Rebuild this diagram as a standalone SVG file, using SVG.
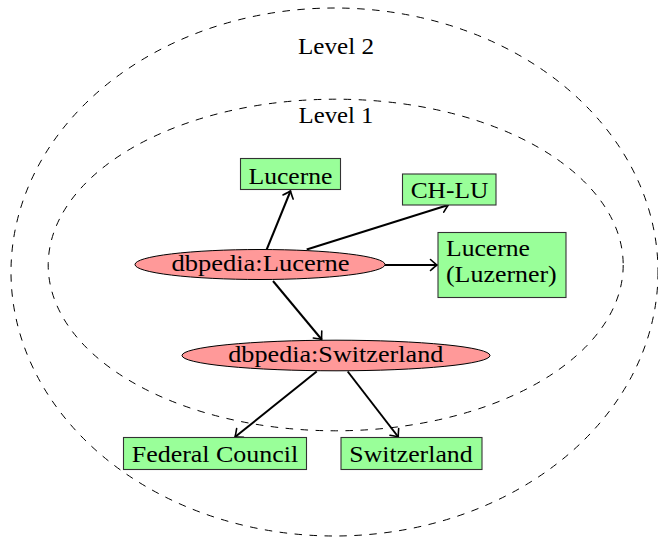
<svg xmlns="http://www.w3.org/2000/svg" width="658" height="538" viewBox="0 0 658 538">
<style>
text{font-family:"Liberation Serif","Times New Roman",serif;font-size:23px;fill:#000}
.c{text-anchor:middle}
.lvl{fill:none;stroke:#000;stroke-width:1;stroke-dasharray:7.5 7.5}
.box{fill:#99ff99;stroke:#333;stroke-width:1.1}
.ell{fill:#ff9999;stroke:#000;stroke-width:1}
.edge{fill:none;stroke:#000;stroke-width:2;marker-end:url(#to)}
</style>
<defs>
<marker id="to" markerUnits="userSpaceOnUse" orient="auto" refX="0" refY="0" markerWidth="20" markerHeight="20" viewBox="-10 -10 20 20" overflow="visible">
<path d="M-6.5,-5.5 Q-1.5,-1 0,0 Q-1.5,1 -6.5,5.5" fill="none" stroke="#000" stroke-width="1.6" stroke-linecap="round"/>
</marker>
</defs>
<g id="level2">
<ellipse class="lvl" cx="334.5" cy="272" rx="323.5" ry="264"/>
<text class="c" x="336" y="54" textLength="76" lengthAdjust="spacingAndGlyphs">Level 2</text>
</g>
<g id="level1">
<ellipse class="lvl" cx="335.7" cy="265" rx="287.5" ry="165.8"/>
<text class="c" x="336" y="122.5" textLength="75" lengthAdjust="spacingAndGlyphs">Level 1</text>
</g>
<g id="edges">
<line class="edge" x1="266.7" y1="249.5" x2="290.5" y2="191"/>
<line class="edge" x1="306.7" y1="249.5" x2="448.3" y2="205"/>
<line class="edge" x1="385" y1="265" x2="437" y2="265"/>
<line class="edge" x1="273" y1="281" x2="321.7" y2="339.5"/>
<line class="edge" x1="316.7" y1="371.5" x2="235" y2="437"/>
<line class="edge" x1="347.7" y1="371.5" x2="398.3" y2="437"/>
</g>
<g id="n-lucerne">
<rect class="box" x="240.5" y="158.5" width="100" height="31"/>
<text class="c" x="290.5" y="183.5" textLength="84" lengthAdjust="spacingAndGlyphs">Lucerne</text>
</g>
<g id="n-chlu">
<rect class="box" x="402.5" y="174" width="93.5" height="31"/>
<text class="c" x="449.5" y="197.7" textLength="77.6" lengthAdjust="spacingAndGlyphs">CH-LU</text>
</g>
<g id="n-luzerner">
<rect class="box" x="438" y="232.5" width="128" height="65"/>
<text x="446" y="256" textLength="84" lengthAdjust="spacingAndGlyphs">Lucerne</text>
<text x="446" y="282" textLength="110.7" lengthAdjust="spacingAndGlyphs">(Luzerner)</text>
</g>
<g id="dbpedia-lucerne">
<ellipse class="ell" cx="260" cy="264.5" rx="125" ry="15"/>
<text class="c" x="260.5" y="270.7" textLength="178" lengthAdjust="spacingAndGlyphs">dbpedia:Lucerne</text>
</g>
<g id="dbpedia-switzerland">
<ellipse class="ell" cx="336" cy="355.5" rx="154" ry="15.3"/>
<text class="c" x="335.8" y="361.7" textLength="215" lengthAdjust="spacingAndGlyphs">dbpedia:Switzerland</text>
</g>
<g id="n-federal-council">
<rect class="box" x="123.5" y="437.5" width="183" height="32"/>
<text class="c" x="215" y="461.7" textLength="166.6" lengthAdjust="spacingAndGlyphs">Federal Council</text>
</g>
<g id="n-switzerland">
<rect class="box" x="341" y="437.5" width="141" height="32"/>
<text class="c" x="411" y="461.7" textLength="123.4" lengthAdjust="spacingAndGlyphs">Switzerland</text>
</g>
</svg>
